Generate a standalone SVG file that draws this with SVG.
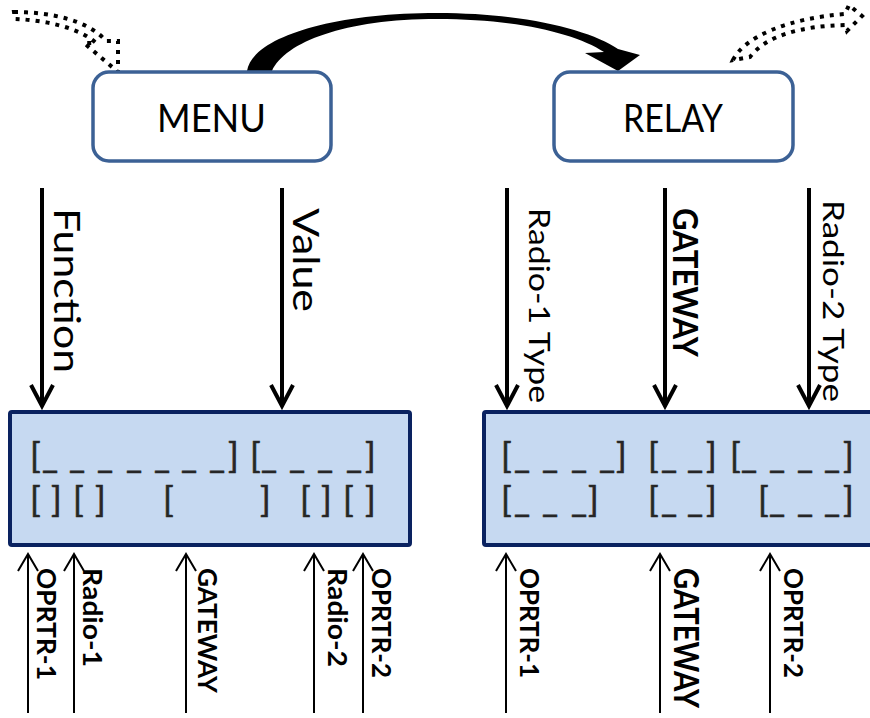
<svg xmlns="http://www.w3.org/2000/svg" width="870" height="718" viewBox="0 0 870 718">
<defs>
<style>
.box{fill:#ffffff;stroke:#3c6195;stroke-width:3.5}
.lcd{fill:#c6d9f1;stroke:#0a2260;stroke-width:4}
.title{font-family:Lato,'Liberation Sans',sans-serif;font-size:38px;fill:#000}
.lbl{font-family:Lato,'Liberation Sans',sans-serif;font-size:36px;fill:#000}
.lbls{font-family:Lato,'Liberation Sans',sans-serif;font-size:28px;fill:#000}
.lblb{font-family:Lato,'Liberation Sans',sans-serif;font-weight:bold;font-size:26px;fill:#000}
.lblbb{font-family:Lato,'Liberation Sans',sans-serif;font-weight:bold;font-size:34px;fill:#000}
.seg{font-family:Lato,'Liberation Sans',sans-serif;font-size:35px;fill:#262626;stroke:#262626;stroke-width:0.6}
.thick{stroke:#000;stroke-width:4;fill:none}
.thin{stroke:#000;stroke-width:2;fill:none}
.dots{fill:none;stroke:#000;stroke-width:4;stroke-dasharray:4 6}
</style>
<marker id="hThick" markerUnits="userSpaceOnUse" orient="auto" viewBox="-30 -16 34 32" markerWidth="34" markerHeight="32" refX="0" refY="0" overflow="visible">
<path d="M-21,-11 L0,0 L-21,11" fill="none" stroke="#000" stroke-width="4"/>
</marker>
<marker id="hThin" markerUnits="userSpaceOnUse" orient="auto" viewBox="-22 -12 24 24" markerWidth="24" markerHeight="24" refX="0" refY="0" overflow="visible">
<path d="M-17,-10 L0,0 L-17,10" fill="none" stroke="#000" stroke-width="2"/>
</marker>
</defs>
<rect width="870" height="718" fill="#ffffff"/>

<g id="connectors">
<path d="M247,71 C252,38 330,13 437,13 C525,13 590,30 618,49 L640,55 L618,71 L585,53 L604,52 C575,33 515,19 437,19 C345,19 285,42 272,71 Z" fill="#000"/>
<path class="dots" d="M14,12 C50,12 88,20 106,41 L118,41 L118,72 L84,43 L96,43 C80,28 45,20 15,19 Z"/>
<path class="dots" d="M733,60 C745,36 790,18 845,14 L849,5 L862,16 L847,31 L845,25 C800,26 766,36 750,57 Z"/>

<line class="thick" x1="42" y1="188" x2="42" y2="406" marker-end="url(#hThick)"/>
<line class="thick" x1="282" y1="188" x2="282" y2="406" marker-end="url(#hThick)"/>
<line class="thick" x1="507" y1="188" x2="507" y2="406" marker-end="url(#hThick)"/>
<line class="thick" x1="665" y1="188" x2="665" y2="406" marker-end="url(#hThick)"/>
<line class="thick" x1="809" y1="188" x2="809" y2="406" marker-end="url(#hThick)"/>

<text class="lbl" transform="translate(54,208) rotate(90)" textLength="165" lengthAdjust="spacingAndGlyphs">Function</text>
<text class="lbl" transform="translate(293,208) rotate(90)" textLength="104" lengthAdjust="spacingAndGlyphs">Value</text>
<text class="lbls" transform="translate(529,208) rotate(90)" textLength="195" lengthAdjust="spacingAndGlyphs">Radio-1 Type</text>
<text class="lblbb" transform="translate(673,208) rotate(90)" textLength="149" lengthAdjust="spacingAndGlyphs">GATEWAY</text>
<text class="lbls" transform="translate(823,200) rotate(90)" textLength="202" lengthAdjust="spacingAndGlyphs">Radio-2 Type</text>

<line class="thin" x1="28" y1="713" x2="28" y2="554" marker-end="url(#hThin)"/>
<line class="thin" x1="74" y1="713" x2="74" y2="554" marker-end="url(#hThin)"/>
<line class="thin" x1="186" y1="713" x2="186" y2="554" marker-end="url(#hThin)"/>
<line class="thin" x1="314" y1="713" x2="314" y2="554" marker-end="url(#hThin)"/>
<line class="thin" x1="363" y1="713" x2="363" y2="554" marker-end="url(#hThin)"/>
<line class="thin" x1="506" y1="713" x2="506" y2="554" marker-end="url(#hThin)"/>
<line class="thin" x1="660" y1="713" x2="660" y2="554" marker-end="url(#hThin)"/>
<line class="thin" x1="770" y1="713" x2="770" y2="554" marker-end="url(#hThin)"/>

<text class="lblb" transform="translate(37,568) rotate(90)" textLength="112" lengthAdjust="spacingAndGlyphs">OPRTR-1</text>
<text class="lblb" transform="translate(83,568) rotate(90)" textLength="99" lengthAdjust="spacingAndGlyphs">Radio-1</text>
<text class="lblb" transform="translate(198,568) rotate(90)" textLength="125" lengthAdjust="spacingAndGlyphs">GATEWAY</text>
<text class="lblb" transform="translate(328,568) rotate(90)" textLength="99" lengthAdjust="spacingAndGlyphs">Radio-2</text>
<text class="lblb" transform="translate(372,568) rotate(90)" textLength="110" lengthAdjust="spacingAndGlyphs">OPRTR-2</text>
<text class="lblb" transform="translate(520,568) rotate(90)" textLength="110" lengthAdjust="spacingAndGlyphs">OPRTR-1</text>
<text class="lblb" style="font-size:29px" transform="translate(674,568) rotate(90) scale(1,1.15)" textLength="140" lengthAdjust="spacingAndGlyphs">GATEWAY</text>
<text class="lblb" transform="translate(784,568) rotate(90)" textLength="110" lengthAdjust="spacingAndGlyphs">OPRTR-2</text>
</g>

<g id="menu">
<rect class="box" x="93" y="72" width="238" height="89" rx="16"/>
<text class="title" x="157" y="132" textLength="109" lengthAdjust="spacingAndGlyphs">MENU</text>
</g>

<g id="relay">
<rect class="box" x="554" y="72" width="239" height="89" rx="16"/>
<text class="title" x="623" y="132" textLength="100" lengthAdjust="spacingAndGlyphs">RELAY</text>
</g>

<g id="lcd-menu">
<rect class="lcd" x="10" y="412" width="400" height="133" rx="2"/>
<text class="seg" x="30 42 69 97 126 154 181 209 228" y="468">[_______]</text>
<text class="seg" x="250 261 289 317 346 365" y="468">[____]</text>
<text class="seg" x="30 51 73 95 163 260 300 321 343 365" y="512">[][][][][]</text>
</g>

<g id="lcd-relay">
<rect class="lcd" x="484" y="412" width="400" height="133" rx="2"/>
<text class="seg" x="501 514 542 571 599 616" y="468">[____]</text>
<text class="seg" x="648 661 687 706" y="468">[__]</text>
<text class="seg" x="730 741 769 797 824 843" y="468">[____]</text>
<text class="seg" x="501 514 542 571 588" y="512">[___]</text>
<text class="seg" x="648 661 687 706" y="512">[__]</text>
<text class="seg" x="758 769 797 824 843" y="512">[___]</text>
</g>
</svg>
